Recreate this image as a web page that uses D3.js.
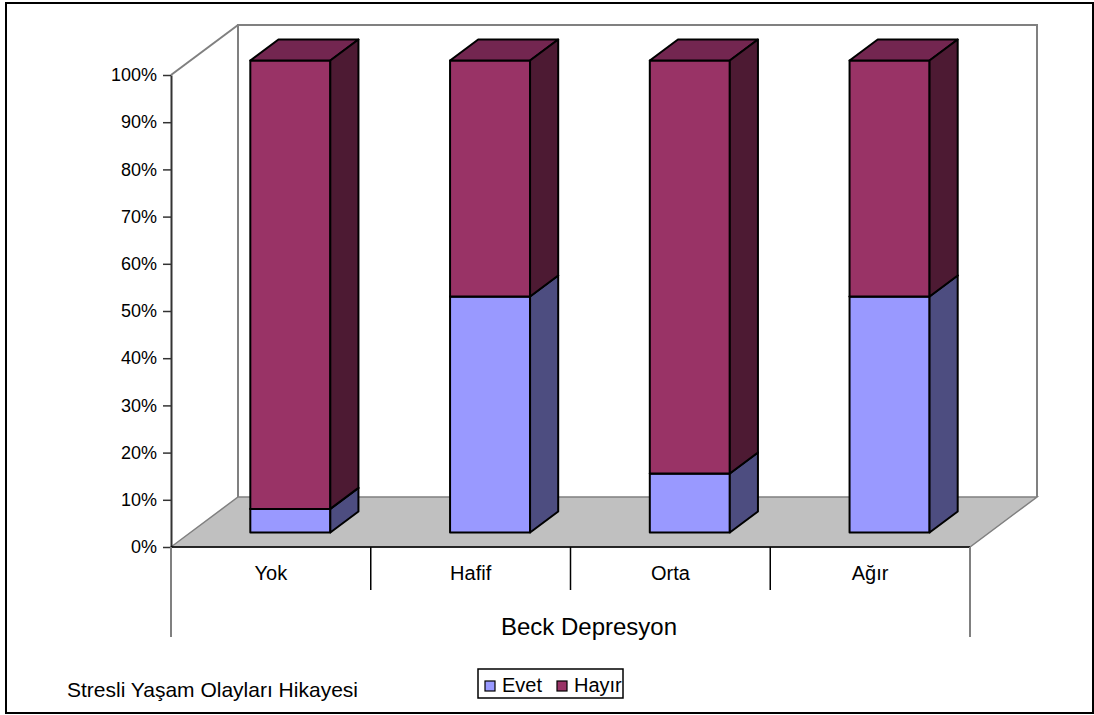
<!DOCTYPE html>
<html>
<head>
<meta charset="utf-8">
<script src="https://cdn.jsdelivr.net/npm/d3@7"></script>
<style>
  body { margin: 0; background: #fff; }
  text { font-family: "Liberation Sans", Arial, sans-serif; fill: #000; }
</style>
</head>
<body>
<svg id="chart" width="1094" height="715"></svg>
<script>
// data
var categories = ["Yok", "Hafif", "Orta", "Ağır"];
var seriesNames = ["Evet", "Hayır"];
var evet = [0.05, 0.50, 0.125, 0.50];
var hayir = [0.95, 0.50, 0.875, 0.50];
var yTicks = [0, 0.1, 0.2, 0.3, 0.4, 0.5, 0.6, 0.7, 0.8, 0.9, 1.0];

var front = {"Evet": "#9999ff", "Hayır": "#993366"};
var tops = {"Evet": "#7373bf", "Hayır": "#732650"};
var sides = {"Evet": "#4d4d80", "Hayır": "#4d1a33"};

var svg = d3.select("#chart");
var DX = 67, DY = -50;     // depth of the 3d box
var d0 = 0.29, d1 = 0.71;  // bar depth span
var barW = 80;

var x = d3.scaleBand().domain(categories).range([171, 970]);
var y = d3.scaleLinear().domain([0, 1]).range([547, 75]);

// outer frame
svg.append("rect").attr("x", 6).attr("y", 3).attr("width", 1087).attr("height", 710)
    .attr("fill", "none").attr("stroke", "#000").attr("stroke-width", 2);

// back wall
var wall = svg.append("g").attr("stroke", "#808080").attr("stroke-width", 2).attr("fill", "none");
wall.append("path").attr("d", "M" + (171 + DX) + "," + (y(0) + DY) + "V" + (y(1) + DY) + "H" + (970 + DX) + "V" + (y(0) + DY));
wall.append("line").attr("x1", 171).attr("y1", y(1)).attr("x2", 171 + DX).attr("y2", y(1) + DY);

// floor
svg.append("path")
    .attr("d", "M171," + y(0) + "L" + (171 + DX) + "," + (y(0) + DY) + "H" + (970 + DX) + "L970," + y(0) + "Z")
    .attr("fill", "#c0c0c0").attr("stroke", "#808080").attr("stroke-width", 1.5);

// y axis
var yAxis = svg.append("g").attr("transform", "translate(171,0)")
    .call(d3.axisLeft(y).tickValues(yTicks).tickFormat(d3.format(".0%")).tickSize(8).tickSizeOuter(0).tickPadding(6));
yAxis.select(".domain").attr("stroke", "#333").attr("stroke-width", 2);
yAxis.selectAll(".tick line").attr("stroke", "#333").attr("stroke-width", 1.5);
yAxis.selectAll(".tick text").attr("font-size", 18).attr("font-family", "Liberation Sans, Arial, sans-serif").attr("fill", "#000");

// bars
var stacked = categories.map(function(c, i) {
    return [{s: "Evet", lo: 0, hi: evet[i]}, {s: "Hayır", lo: evet[i], hi: evet[i] + hayir[i]}];
});
var bars = svg.append("g").attr("stroke", "#000").attr("stroke-width", 2).attr("stroke-linejoin", "round");
stacked.forEach(function(segs, i) {
    var cx = x(categories[i]) + x.bandwidth() / 2 + d0 * DX;
    var x0 = cx - barW / 2, x1 = cx + barW / 2;
    var ox = (d1 - d0) * DX, oy = (d1 - d0) * DY;
    segs.forEach(function(sg) {
        var yb = y(sg.lo) + d0 * DY, yt = y(sg.hi) + d0 * DY;
        bars.append("rect").attr("x", x0).attr("y", yt).attr("width", barW).attr("height", yb - yt)
            .attr("fill", front[sg.s]);
        bars.append("path").attr("d", "M" + x0 + "," + yt + "L" + (x0 + ox) + "," + (yt + oy) + "H" + (x1 + ox) + "L" + x1 + "," + yt + "Z")
            .attr("fill", tops[sg.s]);
        bars.append("path").attr("d", "M" + x1 + "," + yb + "V" + yt + "L" + (x1 + ox) + "," + (yt + oy) + "V" + (yb + oy) + "Z")
            .attr("fill", sides[sg.s]);
    });
});

// front floor edge and category axis
svg.append("line").attr("x1", 171).attr("x2", 970).attr("y1", y(0)).attr("y2", y(0)).attr("stroke", "#000").attr("stroke-width", 1.5);
svg.selectAll(".sep").data(categories.slice(1)).enter().append("line")
    .attr("x1", function(d) { return x(d); }).attr("x2", function(d) { return x(d); })
    .attr("y1", y(0)).attr("y2", 590).attr("stroke", "#000").attr("stroke-width", 1.5);
svg.selectAll(".edge").data([171, 970]).enter().append("line")
    .attr("x1", function(d) { return d; }).attr("x2", function(d) { return d; })
    .attr("y1", y(0)).attr("y2", 637).attr("stroke", "#808080").attr("stroke-width", 2);
svg.selectAll(".cat").data(categories).enter().append("text")
    .attr("x", function(d) { return x(d) + x.bandwidth() / 2; }).attr("y", 580)
    .attr("text-anchor", "middle").attr("font-size", 20).text(function(d) { return d; });

svg.append("text").attr("x", 589).attr("y", 635).attr("text-anchor", "middle").attr("font-size", 24).text("Beck Depresyon");

// legend
svg.append("text").attr("x", 67).attr("y", 697).attr("font-size", 21).text("Stresli Yaşam Olayları Hikayesi");
var lg = svg.append("g").attr("transform", "translate(478,669)");
lg.append("rect").attr("width", 145).attr("height", 29).attr("fill", "#fff").attr("stroke", "#000").attr("stroke-width", 1.5);
var lx = [7, 79];
seriesNames.forEach(function(s, i) {
    lg.append("rect").attr("x", lx[i]).attr("y", 12).attr("width", 10).attr("height", 10)
        .attr("fill", front[s]).attr("stroke", "#000").attr("stroke-width", 1.2);
    lg.append("text").attr("x", lx[i] + 17).attr("y", 23).attr("font-size", 20).text(s);
});
</script>
</body>
</html>
